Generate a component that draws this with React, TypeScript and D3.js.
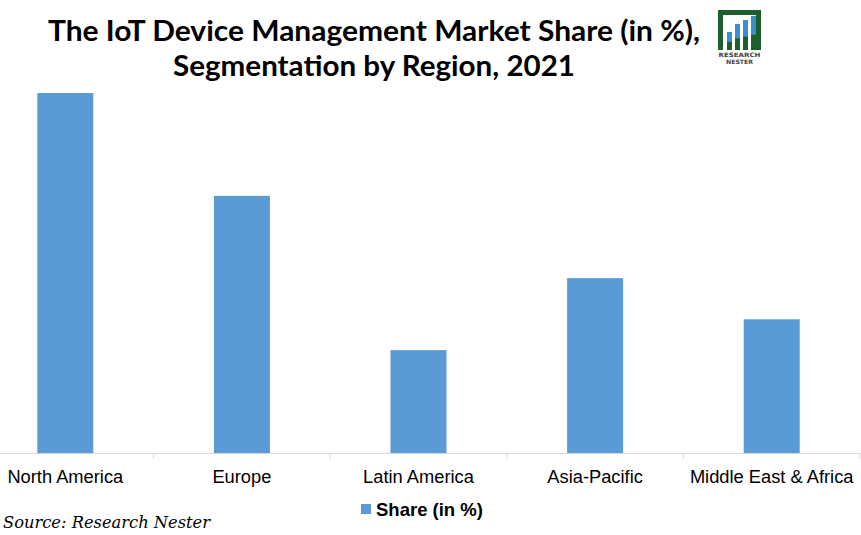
import React from "react";
import * as d3 from "d3";

const categories = ["North America", "Europe", "Latin America", "Asia-Pacific", "Middle East & Africa"];
const shareValues = [35, 25, 10, 17, 13];
const seriesName = "Share (in %)";

export default function App() {
  const W = 861, H = 535;
  const x = d3.scaleBand<string>().domain(categories).range([-23, 860]).paddingInner(0).paddingOuter(0);
  const y = d3.scaleLinear().domain([0, 35]).range([453, 93]);
  const bw = 56;
  const ticks = d3.range(categories.length + 1).map(i => -23 + i * x.step());
  return (
    <svg width={W} height={H} style={{ position: "absolute", left: 0, top: 0, background: "#fff" }}>
      <rect x={0} y={0} width={W} height={H} fill="#fff" />
      <text x={374} y={41} textAnchor="middle" fontFamily="Lato, 'Open Sans', sans-serif" fontWeight="bold" fontSize={28.5} fill="#000" textLength={652} lengthAdjust="spacingAndGlyphs">The IoT Device Management Market Share (in %),</text>
      <text x={374} y={76} textAnchor="middle" fontFamily="Lato, 'Open Sans', sans-serif" fontWeight="bold" fontSize={28.5} fill="#000" textLength={402} lengthAdjust="spacingAndGlyphs">Segmentation by Region, 2021</text>
      {/* logo */}
      <g>
        <path d="M718,50 L718,10 L761,10 L761,50 L756,50 L756,15 L723,15 L723,50 Z" fill="#1d5e2c" />
        {[0, 1, 2, 3].map(i => {
          const h = [18, 26, 30, 34][i];
          return <g key={i}>
            <rect x={727 + i * 8} y={50 - h} width={5} height={h} fill="#1d5e2c" />
            <rect x={727 + i * 8} y={50 - h} width={5} height={h * 0.55} fill="#3a8fd0" />
          </g>;
        })}
        <text x={739.5} y={57} textAnchor="middle" fontFamily="'DejaVu Sans', sans-serif" fontWeight="bold" fontSize={6} fill="#444" textLength={42} lengthAdjust="spacingAndGlyphs">RESEARCH</text>
        <text x={739.5} y={64} textAnchor="middle" fontFamily="'DejaVu Sans', sans-serif" fontWeight="bold" fontSize={6} fill="#444" textLength={27} lengthAdjust="spacingAndGlyphs">NESTER</text>
      </g>
      {categories.map((c, i) => (
        <rect key={c} x={x(c)! + x.bandwidth() / 2 - bw / 2} y={y(shareValues[i])} width={bw} height={y(0) - y(shareValues[i])} fill="#5b9bd5" />
      ))}
      <line x1={0} x2={860} y1={453.5} y2={453.5} stroke="#d9d9d9" strokeWidth={1} />
      {ticks.map((t, i) => <line key={i} x1={t} x2={t} y1={453} y2={459} stroke="#d9d9d9" strokeWidth={1} />)}
      {categories.map(c => (
        <text key={c} x={x(c)! + x.bandwidth() / 2} y={483} textAnchor="middle" fontFamily="'Liberation Sans', Arial, sans-serif" fontSize={18.3} fill="#000">{c}</text>
      ))}
      <rect x={361} y={504} width={10} height={10} fill="#5b9bd5" />
      <text x={376} y={516} fontFamily="'Liberation Sans', Arial, sans-serif" fontWeight="bold" fontSize={18.5} fill="#000">{seriesName}</text>
      <text x={3} y={528} fontFamily="'DejaVu Serif', Georgia, serif" fontStyle="italic" fontSize={17} fill="#000" textLength={207} lengthAdjust="spacingAndGlyphs">Source: Research Nester</text>
    </svg>
  );
}
